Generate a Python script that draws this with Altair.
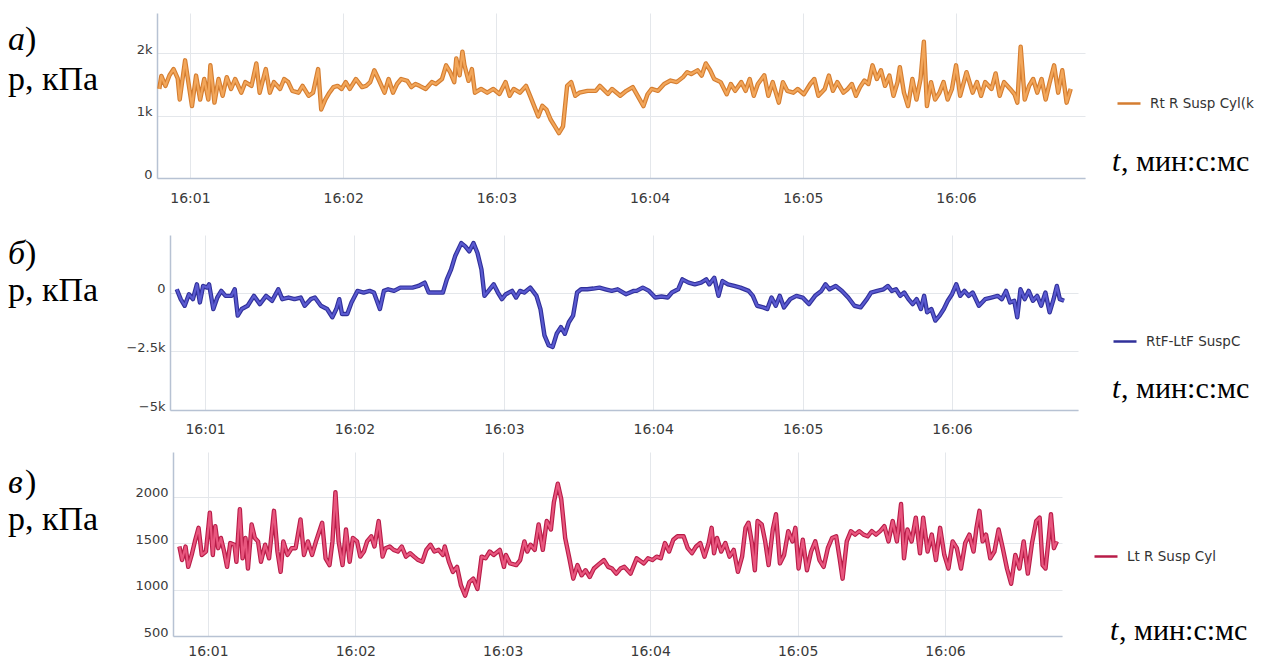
import altair as alt
import pandas as pd

# ---------------- data: seconds after 16:00:00 / pressure, kPa ----------------
a_t = [48.0, 48.8, 50.4, 52.0, 53.6, 55.2, 56.0, 58.1, 60.8, 62.4, 64.0, 65.6, 67.2, 68.0, 69.6, 71.2,
       72.8, 74.4, 76.1, 77.7, 80.1, 81.7, 84.1, 86.0, 87.3, 89.7, 91.3, 92.9, 95.3, 96.9, 98.5, 100.1,
       102.5, 104.1, 106.5, 108.2, 110.2, 111.4, 113.0, 114.6, 116.2, 117.8, 119.4, 121.0, 122.6, 125.0,
       127.4, 129.0, 130.6, 132.2, 133.8, 136.2, 137.8, 139.5, 141.1, 142.7, 145.1, 146.7, 148.3, 149.9,
       152.3, 154.7, 156.3, 158.7, 160.3, 161.9, 163.5, 164.3, 165.6, 166.7, 167.5, 169.1, 170.4, 171.6,
       174.0, 176.4, 178.8, 181.2, 183.6, 185.2, 186.8, 189.2, 191.6, 193.2, 194.8, 196.4, 198.0, 199.6,
       201.3, 202.9, 204.5, 206.1, 207.7, 209.3, 210.9, 212.5, 215.7, 218.9, 220.5, 223.7, 225.3, 228.5,
       230.9, 233.4, 237.6, 239.2, 240.8, 243.3, 245.7, 248.2, 250.6, 253.1, 254.7, 256.3, 258.8, 260.4,
       262.0, 263.7, 265.3, 267.8, 270.2, 271.8, 273.5, 275.9, 277.6, 279.2, 280.8, 282.4, 284.9, 286.5,
       288.2, 290.6, 292.2, 293.9, 296.3, 298.0, 300.4, 302.9, 304.5, 306.1, 308.6, 310.2, 311.8, 313.5,
       315.9, 317.6, 319.2, 320.8, 322.4, 324.1, 325.7, 327.3, 329.0, 330.6, 332.2, 333.9, 335.5, 337.1,
       338.0, 339.6, 341.2, 342.9, 344.5, 346.1, 347.4, 348.6, 350.2, 351.8, 353.5, 355.1, 356.7, 358.4,
       360.0, 361.6, 364.1, 366.5, 368.2, 369.8, 371.4, 373.9, 375.5, 377.1, 378.8, 381.2, 382.9, 384.0,
       385.3, 386.9, 388.6, 390.2, 391.8, 393.5, 395.1, 396.7, 398.4, 400.0, 401.6, 403.3, 404.9]
a_v = [1430, 1640, 1480, 1650, 1750, 1600, 1260, 1890, 1155, 1645, 1260, 1590, 1260, 1810, 1210, 1590,
       1320, 1620, 1430, 1590, 1370, 1540, 1480, 1840, 1370, 1750, 1370, 1540, 1430, 1590, 1540, 1400,
       1370, 1480, 1320, 1370, 1750, 1100, 1260, 1370, 1460, 1480, 1430, 1540, 1430, 1590,
       1460, 1480, 1540, 1730, 1590, 1370, 1590, 1370, 1510, 1590, 1560, 1460, 1510, 1480,
       1430, 1540, 1510, 1590, 1810, 1700, 1540, 1920, 1650, 2030, 1810, 1560, 1750, 1370,
       1430, 1370, 1430, 1350, 1540, 1320, 1430, 1370, 1480, 1320, 1155, 990, 1160, 1100,
       935, 830, 720, 830, 1480, 1540, 1320, 1370, 1400, 1400, 1480, 1350, 1430, 1320,
       1400, 1460, 1155, 1345, 1430, 1400, 1510, 1565, 1540, 1620, 1700, 1670, 1730, 1645,
       1840, 1730, 1590, 1540, 1345, 1510, 1400, 1540, 1400, 1590, 1320, 1510, 1650, 1320,
       1540, 1210, 1540, 1400, 1370, 1430, 1345, 1510, 1590, 1320, 1430, 1645, 1400, 1540,
       1370, 1430, 1510, 1320, 1460, 1565, 1510, 1810, 1590, 1730, 1480, 1645, 1320, 1540,
       1780, 1370, 1155, 1590, 1260, 1590, 2190, 1155, 1540, 1260, 1370, 1540, 1260, 1430,
       1810, 1320, 1700, 1370, 1540, 1320, 1540, 1430, 1680, 1320, 1540, 1430, 1345, 1210,
       2110, 1260, 1480, 1590, 1370, 1590, 1260, 1540, 1810, 1370, 1730, 1210, 1430]

b_t = [48.6, 50.2, 51.8, 53.5, 55.1, 56.7, 57.9, 59.2, 60.8, 61.6, 63.3, 64.9, 66.5, 68.2, 70.6, 71.9,
       73.1, 74.7, 77.1, 79.6, 82.0, 84.5, 86.9, 89.4, 91.0, 93.5, 95.9, 98.4, 100.0, 102.4, 104.1, 106.5,
       109.0, 111.1, 112.7, 113.9, 115.0, 117.1, 118.8, 121.2, 123.7, 126.1, 127.8, 130.2, 131.8, 133.5,
       135.9, 138.4, 140.8, 143.3, 145.7, 148.2, 149.8, 152.2, 155.5, 157.1, 158.8, 160.4, 162.9, 164.5,
       166.1, 167.8, 169.4, 171.0, 172.2, 174.3, 175.9, 177.6, 179.2, 180.8, 183.3, 184.9, 186.5, 188.2,
       190.6, 193.1, 194.7, 196.3, 198.0, 199.6, 201.2, 202.9, 204.5, 206.1, 207.8, 209.4, 211.0, 213.5,
       215.9, 218.4, 220.8, 223.3, 225.7, 229.0, 232.2, 233.3, 235.8, 238.3, 240.8, 243.3, 245.8, 247.5,
       250.0, 251.7, 254.2, 256.7, 259.2, 261.3, 262.5, 264.5, 266.2, 267.8, 270.0, 272.5, 275.0, 278.3,
       280.0, 281.7, 284.2, 285.8, 287.5, 289.2, 290.8, 292.5, 295.0, 297.5, 300.0, 302.5, 305.0, 307.5,
       309.2, 310.8, 313.3, 315.8, 318.3, 320.8, 323.3, 325.8, 327.5, 330.0, 332.5, 334.2, 335.8, 337.5,
       339.2, 340.8, 342.5, 344.2, 345.8, 347.5, 348.8, 350.0, 351.7, 353.3, 355.0, 356.7, 358.3, 360.0,
       361.7, 363.3, 365.0, 366.7, 368.3, 370.8, 373.3, 375.8, 378.3, 380.0, 381.7, 383.3, 385.0, 386.2,
       387.5, 389.2, 390.8, 392.5, 394.2, 395.8, 397.5, 399.2, 400.8, 402.1, 403.3, 405.0]
b_v = [140, -281, -562, -70, -281, 351, -421, 281, 211, 351, -702, -211, 70, -140, -140, 140,
       -983, -702, -562, -140, -491, -140, -351, 140, -281, -211, -281, -211, -562, -281, -211, -562,
       -702, -1053, -702, -281, -913, -913, -421, 70, 0, 70, 0, -702, 70, 140,
       70, 211, 211, 211, 281, 421, 0, 0, 0, 562, 983, 1544, 2106, 1966,
       1755, 2106, 1685, 983, -140, 140, 351, 0, -281, -70, 70, -211, 70, 0,
       211, -140, -702, -1825, -2246, -2317, -1755, -1474, -1755, -1264, -983, 0, 140, 140,
       170, 211, 140, 70, 140, -70, 70, 70, 211, 70, -211, -170, -211, 0,
       140, 562, 421, 351, 421, 562, 351, 632, -140, 491, 351, 281, 211, 70,
       -140, -562, -632, -702, -211, -562, -140, -632, -281, -140, -211, -491, -140, 70,
       351, 140, 281, 70, -211, -562, -632, -281, 0, 70, 140, 281, 70, 140,
       -140, 0, -281, -491, -281, -702, -140, -842, -702, -1193, -983, -702, -351, -70,
       351, -140, 70, -140, 0, -562, -281, -211, -140, -281, 70, -421, -351, -1053,
       140, -281, 70, -351, -140, -562, 0, -842, -281, 281, -281, -351]

c_t = [48.4, 49.5, 50.9, 52.0, 53.4, 54.7, 56.2, 57.5, 59.2, 60.8, 62.0, 63.0, 64.2, 65.3, 66.6, 67.8,
       69.1, 70.8, 71.6, 73.0, 74.1, 75.3, 76.3, 77.8, 79.1, 80.4, 81.6, 83.3, 84.9, 86.9, 88.3, 89.6,
       90.7, 92.4, 94.1, 95.7, 97.7, 99.1, 100.7, 102.4, 104.0, 106.5, 107.9, 109.5, 110.7, 111.9, 113.2,
       114.8, 116.2, 117.7, 119.0, 120.7, 122.0, 123.5, 124.8, 126.5, 127.8, 129.5, 131.1, 132.3, 134.0,
       135.6, 137.3, 138.9, 140.6, 142.3, 143.9, 145.6, 147.3, 148.9, 150.6, 152.2, 153.9, 155.6, 156.4,
       158.1, 159.7, 161.4, 163.0, 164.7, 166.4, 168.0, 169.7, 171.4, 173.0, 174.7, 176.3, 178.8, 180.5,
       181.3, 183.0, 185.5, 187.1, 188.8, 190.0, 191.3, 193.0, 194.6, 196.3, 197.9, 199.6, 200.8, 202.4,
       203.8, 205.4, 207.1, 208.7, 210.4, 212.1, 213.7, 215.4, 217.1, 219.5, 221.2, 222.9, 224.5, 226.2,
       227.9, 229.5, 232.0, 234.5, 237.4, 239.1, 240.9, 242.6, 244.3, 246.0, 247.7, 249.4, 251.1, 253.6,
       255.3, 257.0, 258.7, 260.4, 262.1, 263.8, 265.0, 266.0, 267.2, 268.9, 270.6, 272.3, 274.0, 275.7,
       277.4, 278.8, 280.0, 281.4, 282.6, 283.7, 285.4, 286.8, 288.2, 289.9, 291.2, 292.8, 294.5, 296.2,
       297.9, 299.1, 300.4, 302.1, 303.8, 305.5, 307.2, 308.9, 310.6, 312.3, 314.0, 315.7, 317.1, 318.3,
       320.0, 321.7, 323.4, 325.1, 326.8, 328.5, 330.2, 331.9, 333.6, 335.3, 337.0, 338.7, 340.4, 342.1,
       343.3, 344.7, 346.4, 348.1, 349.8, 351.1, 352.9, 354.6, 356.3, 358.0, 359.7, 361.4, 363.1, 364.8,
       366.5, 368.2, 369.9, 371.6, 372.8, 374.0, 375.3, 376.7, 378.4, 380.1, 381.8, 383.5, 385.2, 386.9,
       388.6, 390.3, 392.0, 393.7, 395.4, 397.1, 398.5, 399.7, 400.9, 402.2, 403.1, 404.3, 405.5]
c_v = [1463, 1317, 1463, 1244, 1372, 1518, 1664, 1372, 1409, 1828, 1372, 1682, 1445, 1555, 1409, 1244,
       1500, 1482, 1299, 1865, 1336, 1555, 1226, 1701, 1555, 1518, 1299, 1482, 1336, 1847, 1409, 1190,
       1518, 1372, 1445, 1445, 1755, 1372, 1518, 1372, 1518, 1719, 1336, 1263, 1518, 2047, 1518,
       1263, 1646, 1299, 1555, 1518, 1354, 1409, 1518, 1573, 1463, 1737, 1354, 1445, 1463,
       1427, 1409, 1463, 1354, 1391, 1354, 1317, 1299, 1427, 1482, 1409, 1427, 1372, 1463,
       1299, 1190, 1244, 1044, 934, 1080, 1117, 1007, 1354, 1336, 1409, 1372, 1427, 1244,
       1372, 1281, 1263, 1317, 1518, 1409, 1482, 1427, 1701, 1427, 1737, 1646, 1938, 2139,
       1974, 1555, 1336, 1117, 1263, 1153, 1208, 1135, 1226, 1281, 1317, 1244, 1226, 1171,
       1226, 1244, 1171, 1336, 1281, 1336, 1317, 1354, 1336, 1500, 1409, 1536, 1573, 1573,
       1445, 1391, 1463, 1500, 1354, 1500, 1664, 1391, 1555, 1409, 1500, 1354, 1427, 1190,
       1354, 1664, 1719, 1500, 1208, 1737, 1701, 1518, 1263, 1646, 1810, 1281, 1372, 1628,
       1518, 1664, 1226, 1536, 1208, 1409, 1518, 1317, 1244, 1445, 1555, 1573, 1336, 1117,
       1518, 1628, 1591, 1628, 1591, 1573, 1628, 1591, 1628, 1682, 1518, 1737, 1518, 1920,
       1336, 1646, 1518, 1774, 1391, 1774, 1409, 1591, 1317, 1664, 1372, 1226, 1518, 1445,
       1226, 1500, 1591, 1409, 1664, 1847, 1518, 1591, 1336, 1409, 1646, 1445, 1226, 1062,
       1372, 1226, 1518, 1171, 1500, 1737, 1774, 1263, 1226, 1555, 1810, 1445, 1518]

A_NAME = "Rt R Susp Cyl(k"
B_NAME = "RtF-LtF SuspC"
C_NAME = "Lt R Susp Cyl"
X_TICK_MINUTES = [1, 2, 3, 4, 5, 6]

SERIF = "Liberation Serif"
SANS = "DejaVu Sans"
K_LABELS = "datum.value == 0 ? '0' : format(datum.value / 1000, '~r') + 'k'"
PLAIN_LABELS = "format(datum.value, 'd')"


def stamp(sec):
    m = int(sec // 60)
    s = sec - 60 * m
    return f"2020-01-01T16:{m:02d}:{s:06.3f}"


def dt(sec):
    m = int(sec // 60)
    s = sec - 60 * m
    return alt.DateTime(year=2020, month=1, date=1, hours=16, minutes=m,
                        seconds=int(s), milliseconds=int(round((s - int(s)) * 1000)))


def txt(s, x, y, size, italic=False):
    return alt.Chart(pd.DataFrame({"label": [s]})).mark_text(
        align="left", baseline="alphabetic", font=SERIF, fontSize=size,
        fontStyle="italic" if italic else "normal", color="black"
    ).encode(x=alt.value(x), y=alt.value(y), text="label:N")


def panel(ts, vs, name, c_out, c_in, width, height, xoff, xdom, ydom, yticks, ylabels,
          xpad, letter, letter_y, p_y, t_x, t_y, leg_x, leg_y):
    df = pd.DataFrame({"time": [stamp(t) for t in ts], "value": vs, "series": [name] * len(ts)})
    x = alt.X("time:T", title=None,
              scale=alt.Scale(domain=[dt(xdom[0]), dt(xdom[1])], range=[xoff, width]),
              axis=alt.Axis(values=[dt(60 * m) for m in X_TICK_MINUTES], format="%H:%M",
                            ticks=False, labelPadding=xpad, labelFontSize=14,
                            labelFlush=False, labelOverlap=False, grid=True))
    y = alt.Y("value:Q", title=None,
              scale=alt.Scale(domain=ydom, nice=False, zero=False),
              axis=alt.Axis(values=yticks, labelExpr=ylabels, ticks=False, labelPadding=5,
                            offset=-xoff, labelBaseline="alphabetic", labelFontSize=13,
                            labelOverlap=False, grid=True))
    base = alt.Chart(df).encode(x=x, y=y)
    outer = base.mark_line(strokeWidth=4.4, strokeJoin="round").encode(
        color=alt.Color("series:N", scale=alt.Scale(domain=[name], range=[c_out]),
                        legend=alt.Legend(orient="none", legendX=leg_x, legendY=leg_y, title=None,
                                          symbolType="stroke", symbolSize=529,
                                          symbolStrokeWidth=2.5, labelFont=SANS,
                                          labelFontSize=13.5, labelColor="#333333",
                                          labelOffset=8, padding=0, labelLimit=400)))
    inner = base.mark_line(strokeWidth=2.2, strokeJoin="round", color=c_in)
    texts = [
        txt(letter, -149, letter_y, 34, italic=True),
        txt(")", -132, letter_y, 34),
        txt("р, кПа", -149, p_y, 34),
        txt("t", t_x, t_y, 30, italic=True),
        txt(", мин:с:мс", t_x + 9, t_y, 30),
    ]
    return alt.layer(outer, inner, *texts).properties(width=width, height=height)


pa = panel(a_t, a_v, A_NAME, "#D47D30", "#F2A65A", 928, 165, 0, (47.1, 410.5),
           [0, 2650], [0, 1000, 2000], K_LABELS, 13, "а", 37, 77, 955, 158, 959, 77.5)
pb = panel(b_t, b_v, B_NAME, "#30309A", "#5A5AD0", 921, 175, 13, (45.9, 410.6),
           [-5000, 2450], [-5000, -2500, 0], K_LABELS, 12, "б", 29, 66, 955, 163, 955, 93.5)
pc = panel(c_t, c_v, C_NAME, "#B81C48", "#E8567E", 905, 184, 16, (45.8, 407.6),
           [500, 2480], [500, 1000, 1500, 2000], PLAIN_LABELS, 8, "в", 41, 78, 953, 188, 936, 91.5)

top_pair = alt.vconcat(pa, pb, spacing=30).resolve_scale(color="independent")
chart = alt.vconcat(top_pair, pc, spacing=16).resolve_scale(color="independent").properties(
    padding={"top": 5, "left": 0, "right": 0, "bottom": 0}
).configure_view(stroke=None).configure_axis(
    labelFont=SANS, labelColor="#3a3a3a", domainColor="#b7c2d3", domainWidth=1.5,
    gridColor="#e4e7eb", gridWidth=1
)

chart.save("out.html", embed_options={"renderer": "svg", "actions": False})
